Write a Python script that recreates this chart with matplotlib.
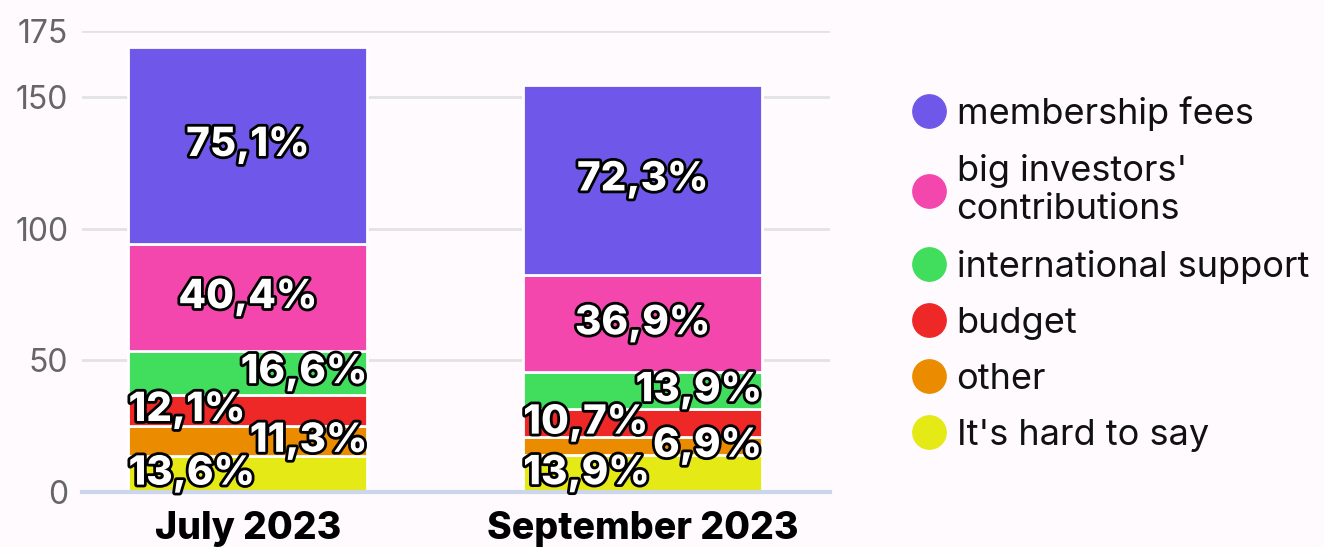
import numpy as np
import matplotlib
matplotlib.use("Agg")
import matplotlib.pyplot as plt
import matplotlib.patheffects as pe
from matplotlib.lines import Line2D

plt.rcParams['font.family'] = ['Inter', 'DejaVu Sans']

periods = ['July 2023', 'September 2023']
series = ["It's hard to say", 'other', 'budget', 'international support',
          "big investors'\ncontributions", 'membership fees']
colors = ['#e5e915', '#eb8c00', '#ee2727', '#41dd5d', '#f347ae', '#6f58e9']
values = {
    "It's hard to say": [13.6, 13.9],
    'other': [11.3, 6.9],
    'budget': [12.1, 10.7],
    'international support': [16.6, 13.9],
    "big investors'\ncontributions": [40.4, 36.9],
    'membership fees': [75.1, 72.3],
}
# small segments get side labels, alternating left / right
label_side = ['left', 'right', 'left', 'right', 'center', 'center']

bg = '#fefafd'
fig = plt.figure(figsize=(13.24, 5.47), dpi=100, facecolor=bg)
ax = fig.add_axes([0.062, 0.1005, 0.565, 0.8428], facecolor=bg)

x = np.arange(len(periods))
width = 0.605
bottom = np.zeros(len(periods))
stroke = [pe.withStroke(linewidth=4, foreground='black')]
for name, col, side in zip(series, colors, label_side):
    vals = np.array(values[name])
    ax.bar(x, vals, width, bottom=bottom, color=col, edgecolor='white',
           linewidth=2, zorder=3)
    for xi, v, b in zip(x, vals, bottom):
        txt = f'{v:.1f}%'.replace('.', ',')
        yc = b + v / 2
        if side == 'left':
            xp, ha = xi - width / 2, 'left'
        elif side == 'right':
            xp, ha = xi + width / 2, 'right'
        else:
            xp, ha = xi, 'center'
        ax.text(xp, yc, txt, ha=ha, va='center', color='white', fontsize=29,
                fontweight='heavy', path_effects=stroke, zorder=5)
    bottom += vals

ax.set_xlim(-0.42, 1.475)
ax.set_ylim(0, 175)
ax.set_yticks([0, 50, 100, 150, 175])
ax.yaxis.grid(True, color='#e3e3e3', linewidth=2, zorder=0)
ax.set_axisbelow(True)
for s in ['top', 'right', 'left']:
    ax.spines[s].set_visible(False)
ax.spines['bottom'].set_color('#ccd6eb')
ax.spines['bottom'].set_linewidth(3)
ax.spines['bottom'].set_zorder(4)
ax.tick_params(axis='y', length=0, labelsize=23, labelcolor='#666666', pad=10)
ax.tick_params(axis='x', length=0, pad=14)
ax.set_xticks(x)
ax.set_xticklabels(periods, fontsize=27, fontweight='heavy', color='black')

handles = [Line2D([], [], marker='o', linestyle='none', markersize=24,
                  markerfacecolor=c, markeredgecolor=c)
           for c in colors[::-1]]
leg = ax.legend(handles, series[::-1], loc='upper left',
                bbox_to_anchor=(0.687, 0.824), bbox_transform=fig.transFigure,
                frameon=False, fontsize=26, labelspacing=0.64,
                handletextpad=0.2, handlelength=1.1, borderaxespad=0,
                borderpad=0)
for t in leg.get_texts():
    t.set_color('#111111')

fig.savefig('out.png', dpi=100, facecolor=bg)
